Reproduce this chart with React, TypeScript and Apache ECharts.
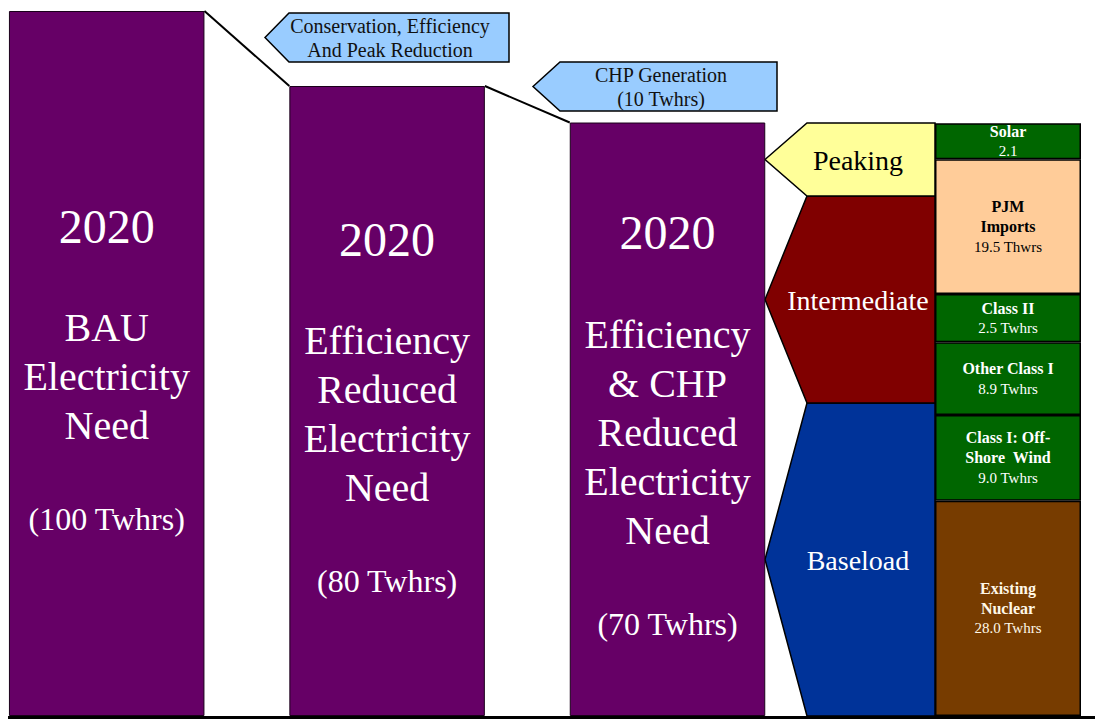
import React, { useEffect, useRef } from "react";
import * as echarts from "echarts";

// ---- Data (schematic heights, on a 0–100 hidden axis) ----
const demandYears = ["2020", "2020", "2020"];
const demandNames = [
  ["BAU", "Electricity", "Need"],
  ["Efficiency", "Reduced", "Electricity", "Need"],
  ["Efficiency", "& CHP", "Reduced", "Electricity", "Need"],
];
const demandTwh = [100, 80, 70];
const demandDrawn = [100, 89.36, 84.18];

const loadBands = ["Baseload", "Intermediate", "Peaking"];
const loadDrawn = [44.4, 29.36, 10.35];
const loadColors = ["#003399", "#800000", "#FFFF99"];
const loadTextColors = ["#ffffff", "#ffffff", "#000000"];

const supplyNames = [
  ["Existing", "Nuclear"],
  ["Class I: Off-", "Shore  Wind"],
  ["Other Class I"],
  ["Class II"],
  ["PJM", "Imports"],
  ["Solar"],
];
const supplyValueText = ["28.0 Twhrs", "9.0 Twhrs", "8.9 Twhrs", "2.5 Twhrs", "19.5 Thwrs", "2.1"];
const supplyDrawn = [30.54, 12.16, 10.31, 6.85, 19.11, 5.11];
const supplyColors = ["#773C00", "#006600", "#006600", "#006600", "#FFCC99", "#006600"];
const supplyTextColors = ["#FFF8E8", "#ffffff", "#ffffff", "#ffffff", "#000000", "#ffffff"];

const callout1 = "Conservation, Efficiency\nAnd Peak Reduction";
const callout2 = "CHP Generation\n(10 Twhrs)";

const SERIF = '"Liberation Serif", "Times New Roman", serif';
const BAR_W = 195.5;

export default function App() {
  const ref = useRef<HTMLDivElement>(null);

  useEffect(() => {
    if (!ref.current) return;
    const chart = echarts.init(ref.current, undefined, { renderer: "svg" });

    const connectorData = demandDrawn.slice(0, -1).map((v, i) => [i, v, demandDrawn[i + 1]]);

    let acc = 0;
    const loadData = loadDrawn.map((h, i) => {
      const lo = acc;
      acc += h;
      return [lo, acc, i];
    });

    const option: any = {
      animation: false,
      grid: [
        { left: 106.7, width: 560.8, top: 11, bottom: 3 },
        { left: 935, width: 146, top: 11, bottom: 3 },
        { left: 765, width: 170, top: 11, bottom: 3 },
      ],
      xAxis: [
        {
          type: "category",
          gridIndex: 0,
          boundaryGap: false,
          data: demandYears.map((y, i) => y + "-" + i),
          show: false,
        },
        { type: "category", gridIndex: 1, data: ["supply"], show: false },
        { type: "value", gridIndex: 2, min: 0, max: 1, show: false },
      ],
      yAxis: [
        { type: "value", gridIndex: 0, min: 0, max: 100, show: false },
        { type: "value", gridIndex: 1, min: 0, max: 100, show: false },
        { type: "value", gridIndex: 2, min: 0, max: 100, show: false },
      ],
      series: [
        {
          type: "bar",
          xAxisIndex: 0,
          yAxisIndex: 0,
          barWidth: BAR_W,
          clip: false,
          data: demandDrawn,
          itemStyle: { color: "#660066", borderColor: "#1a001a", borderWidth: 1 },
          label: {
            show: true,
            position: "inside",
            offset: [0, 5],
            formatter: (p: any) => {
              const i = p.dataIndex;
              return (
                `{yr|${demandYears[i]}}\n{sp| }\n` +
                demandNames[i].map((l) => `{m|${l}}`).join("\n") +
                `\n{sp| }\n{v|(${demandTwh[i]} Twhrs)}`
              );
            },
            rich: {
              yr: { fontSize: 48, lineHeight: 56, color: "#fff", fontFamily: SERIF },
              m: { fontSize: 40, lineHeight: 49, color: "#fff", fontFamily: SERIF },
              sp: { fontSize: 40, lineHeight: 49, color: "#fff", fontFamily: SERIF },
              v: { fontSize: 32, lineHeight: 40, color: "#fff", fontFamily: SERIF },
            },
          },
        },
        {
          type: "custom",
          xAxisIndex: 0,
          yAxisIndex: 0,
          clip: false,
          data: connectorData,
          renderItem: (params: any, api: any) => {
            const i = api.value(0);
            const a = api.coord([i, api.value(1)]);
            const b = api.coord([i + 1, api.value(2)]);
            return {
              type: "line",
              shape: { x1: a[0] + BAR_W / 2, y1: a[1], x2: b[0] - BAR_W / 2, y2: b[1] },
              style: { stroke: "#000", lineWidth: 2 },
            };
          },
          z: 3,
        },
        ...supplyDrawn.map((h, i) => ({
          type: "bar",
          name: supplyNames[i].join(" "),
          xAxisIndex: 1,
          yAxisIndex: 1,
          stack: "mix",
          barWidth: 146,
          data: [h],
          itemStyle: { color: supplyColors[i], borderColor: "#000", borderWidth: 1.5 },
          label: {
            show: true,
            position: "inside",
            formatter: () =>
              supplyNames[i].map((l) => `{b|${l}}`).join("\n") + `\n{v|${supplyValueText[i]}}`,
            rich: {
              b: {
                fontSize: 16,
                fontWeight: "bold",
                lineHeight: 20,
                color: supplyTextColors[i],
                fontFamily: SERIF,
              },
              v: { fontSize: 15, lineHeight: 20, color: supplyTextColors[i], fontFamily: SERIF },
            },
          },
        })),
        {
          type: "custom",
          xAxisIndex: 2,
          yAxisIndex: 2,
          data: loadData,
          renderItem: (params: any, api: any) => {
            const lo = api.value(0);
            const hi = api.value(1);
            const k = api.value(2);
            const tl = api.coord([0, hi]);
            const br = api.coord([1, lo]);
            const x0 = tl[0];
            const x1 = br[0];
            const yT = tl[1];
            const yB = br[1];
            const xs = x0 + (x1 - x0) * 0.247;
            const ym = (yT + yB) / 2;
            return {
              type: "group",
              children: [
                {
                  type: "polygon",
                  shape: { points: [[x0, ym], [xs, yT], [x1, yT], [x1, yB], [xs, yB]] },
                  style: { fill: loadColors[k], stroke: "#000", lineWidth: 1.5 },
                },
                {
                  type: "text",
                  style: {
                    text: loadBands[k],
                    x: x0 + (x1 - x0) * 0.547,
                    y: ym + 1,
                    align: "center",
                    verticalAlign: "middle",
                    fill: loadTextColors[k],
                    fontSize: 28,
                    fontFamily: SERIF,
                  },
                },
              ],
            };
          },
        },
      ],
      graphic: [
        {
          type: "polygon",
          shape: { points: [[265, 37.5], [289, 13], [509, 13], [509, 62], [289, 62]] },
          style: { fill: "#99CCFF", stroke: "#000", lineWidth: 1.5 },
          z: 50,
        },
        {
          type: "text",
          x: 390,
          y: 38,
          style: {
            text: callout1,
            align: "center",
            verticalAlign: "middle",
            fontSize: 20,
            lineHeight: 24,
            fontFamily: SERIF,
            fill: "#111",
          },
          z: 51,
        },
        {
          type: "polygon",
          shape: { points: [[533, 86.5], [560, 62], [777, 62], [777, 111], [560, 111]] },
          style: { fill: "#99CCFF", stroke: "#000", lineWidth: 1.5 },
          z: 50,
        },
        {
          type: "text",
          x: 661,
          y: 87,
          style: {
            text: callout2,
            align: "center",
            verticalAlign: "middle",
            fontSize: 20,
            lineHeight: 24,
            fontFamily: SERIF,
            fill: "#111",
          },
          z: 51,
        },
        {
          type: "line",
          shape: { x1: 8, y1: 717.5, x2: 1095, y2: 717.5 },
          style: { stroke: "#000", lineWidth: 3 },
          z: 100,
        },
      ],
    };

    chart.setOption(option);
    return () => chart.dispose();
  }, []);

  return (
    <div
      ref={ref}
      style={{ position: "absolute", left: 0, top: 0, width: 1095, height: 719, background: "#fff" }}
    />
  );
}
